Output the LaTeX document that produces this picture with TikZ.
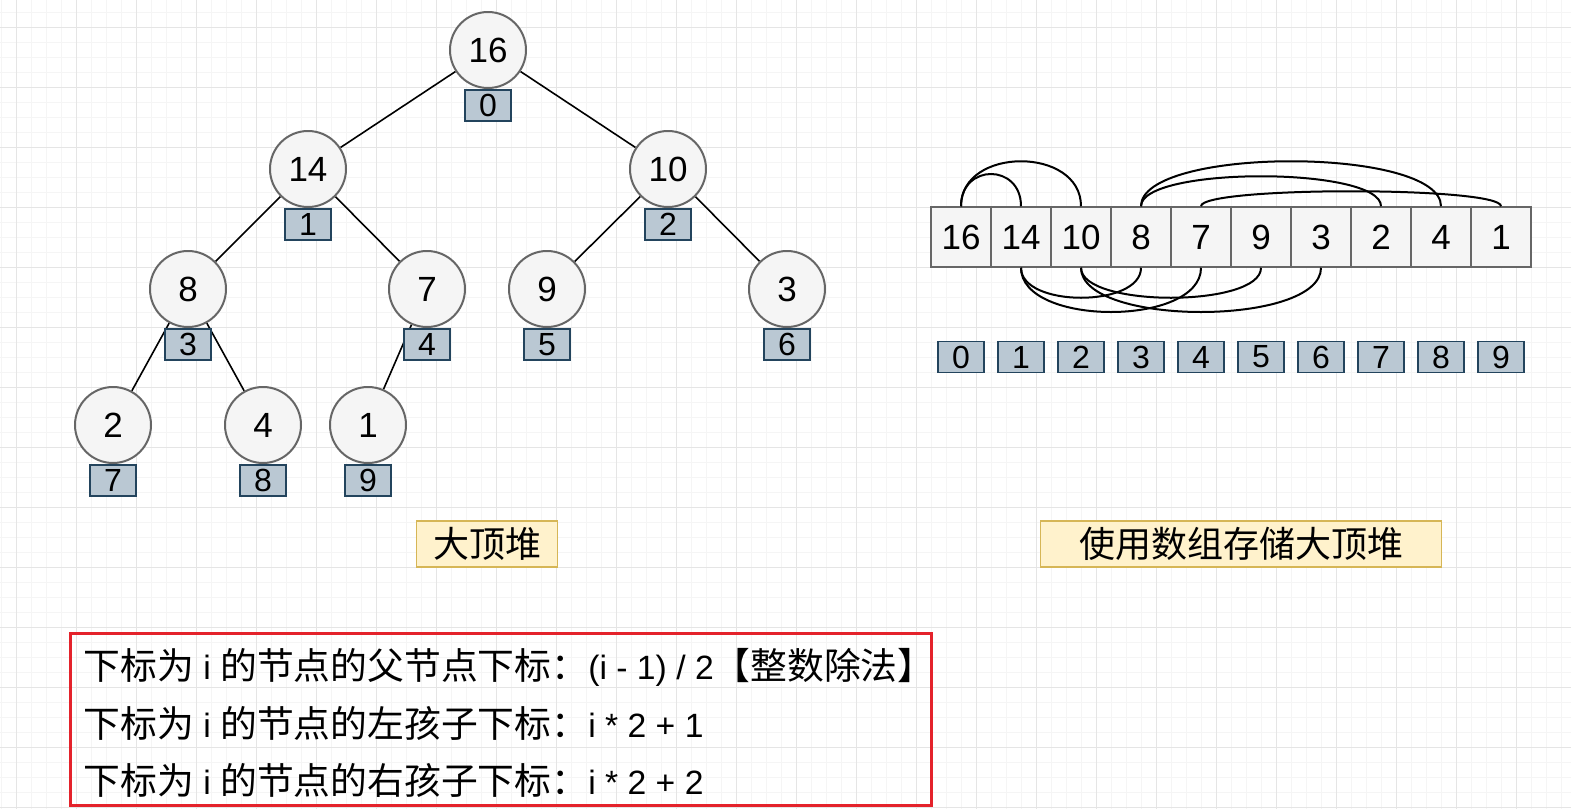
\documentclass[tikz,border=0pt]{standalone}
\usepackage{fontspec}
\setmainfont{Liberation Sans}
\newfontfamily\cjk{Noto Sans CJK SC}
\newcommand{\zh}[1]{{\cjk\fontsize{36.8}{57.5}\selectfont #1}}
\usetikzlibrary{positioning,backgrounds}
\definecolor{nodefill}{HTML}{F5F5F5}
\definecolor{nodeline}{HTML}{666666}
\definecolor{slotfill}{HTML}{BAC8D3}
\definecolor{slotline}{HTML}{23445D}
\definecolor{tagfill}{HTML}{FFF2CC}
\definecolor{tagline}{HTML}{D6B656}
\definecolor{rulered}{HTML}{E4222B}
\begin{document}
\begin{tikzpicture}[
      x=1pt, y=1pt,
      vertex/.style={draw=nodeline, fill=nodefill, circle, line width=2pt, minimum size=76pt, inner sep=0pt, font=\fontsize{35}{40}\selectfont},
      slot/.style={draw=slotline, fill=slotfill, line width=1.5pt, minimum width=46pt, minimum height=31pt, inner sep=0pt, font=\fontsize{32}{36}\selectfont},
      cell/.style={draw=nodeline, fill=nodefill, line width=1.5pt, minimum size=60pt, inner sep=0pt, font=\fontsize{35}{40}\selectfont},
      edge/.style={line width=1.6pt},
      link/.style={line width=2pt},
      tag/.style={draw=tagline, fill=tagfill, line width=1.5pt, minimum height=46pt, inner sep=0pt, font=\fontsize{36}{40}\selectfont\cjk},
      rulebox/.style={draw=rulered, line width=3pt, minimum width=861pt, minimum height=172pt, inner sep=0pt},
      ruletext/.style={inner sep=0pt, align=left, font=\fontsize{33.7}{57.5}\selectfont},
      minorgrid/.style={black!4, line width=1pt},
      majorgrid/.style={black!10, line width=1pt},
    ]
      \useasboundingbox (0,0) rectangle (1571,-809);
      \foreach \i/\x/\y/\v in {0/488/50/16, 1/308/169/14, 2/668/169/10, 3/188/289/8, 4/427/289/7,
          5/547/289/9, 6/787/289/3, 7/113/425/2, 8/263/425/4, 9/368/425/1} {
        \node[vertex] (v\i) at (\x,-\y) {\v};
        \node[slot, below=0pt of v\i] (i\i) {\i};
      }
      \foreach \v [count=\i from 0] in {16,14,10,8,7,9,3,2,4,1} {
        \node[cell] (c\i) at (961+60*\i,-237) {\v};
        \node[slot] (k\i) at (961+60*\i,-357) {\i};
      }
      \foreach \a/\b/\k in {0/1/43, 0/2/60, 3/7/40, 3/8/60, 4/9/20}
        \draw[link] (c\a.north) to[out=90, in=90, distance=\k pt] (c\b.north);
      \foreach \a/\b/\k in {1/3/40, 1/4/59, 2/5/40, 2/6/59}
        \draw[link] (c\a.south) to[out=-90, in=-90, distance=\k pt] (c\b.south);
      \node[tag, minimum width=141pt] (heapname) at (487,-544) {大顶堆};
      \node[tag, minimum width=401pt] (arrayname) at (1241,-544) {使用数组存储大顶堆};
      \node[rulebox] (rules) at (500.5,-719) {};
      \node[ruletext, anchor=west] (ruleslines) at ([xshift=15pt, yshift=-4pt]rules.west)
        {\zh{下标为} i \zh{的节点的父节点下标：}(i - 1) / 2\zh{【整数除法】}\\
        \zh{下标为} i \zh{的节点的左孩子下标：}i * 2 + 1\\
        \zh{下标为} i \zh{的节点的右孩子下标：}i * 2 + 2};
      \begin{scope}[on background layer]
        \fill[white] (0,0) rectangle (1571,-809);
        \foreach \gx in {1,16,...,1571} \draw[minorgrid] (\gx,0) -- (\gx,-809);
        \foreach \gy in {12,27,...,809} \draw[minorgrid] (0,-\gy) -- (1571,-\gy);
        \foreach \gx in {16,76,...,1571} \draw[majorgrid] (\gx,0) -- (\gx,-809);
        \foreach \gy in {27,87,...,809} \draw[majorgrid] (0,-\gy) -- (1571,-\gy);
        \foreach \p/\c in {0/1, 0/2, 1/3, 1/4, 2/5, 2/6, 3/7, 3/8, 4/9}
          \draw[edge] (v\p) -- (v\c);
      \end{scope}
\end{tikzpicture}
\end{document}
